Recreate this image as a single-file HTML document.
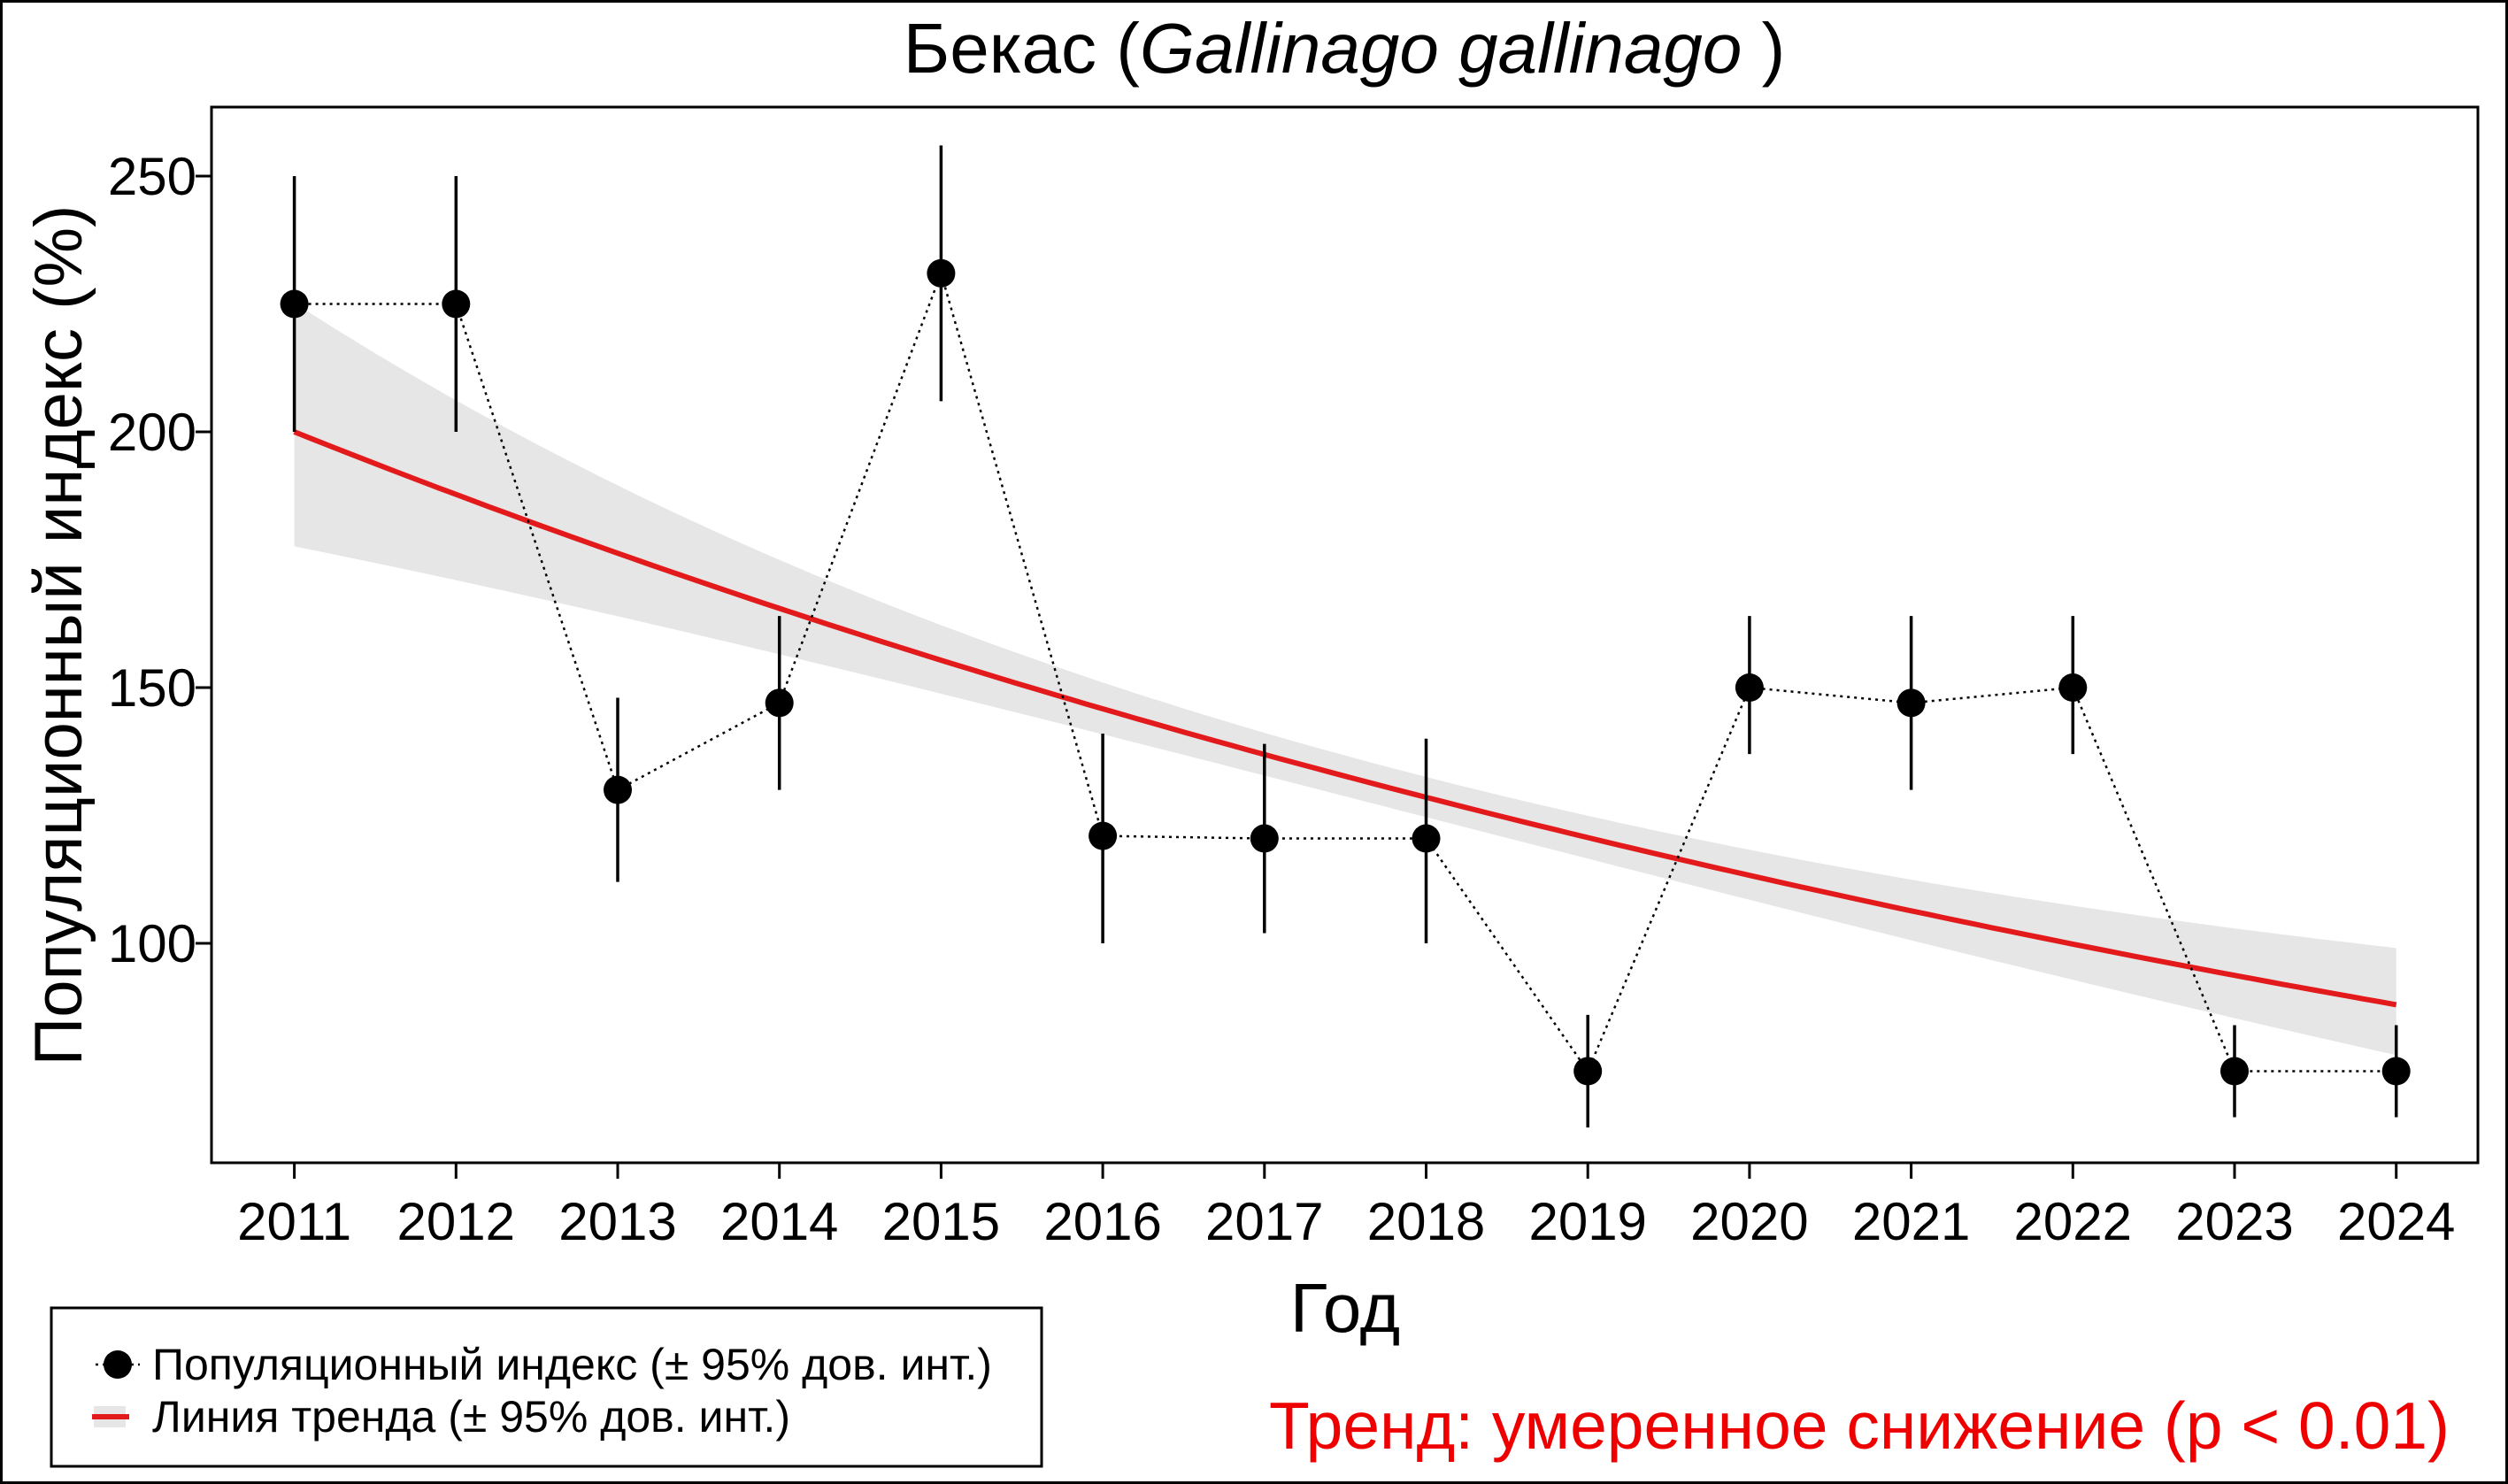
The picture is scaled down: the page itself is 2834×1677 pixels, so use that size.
<!DOCTYPE html>
<html><head><meta charset="utf-8">
<style>
html,body{margin:0;padding:0;background:#fff;}
svg{display:block;}
text{font-family:"Liberation Sans",Arial,sans-serif;}
</style></head>
<body>
<svg id="s" width="2834" height="1677" viewBox="0 0 2834 1677" xmlns="http://www.w3.org/2000/svg">
<rect x="1.5" y="1.5" width="2831" height="1674" fill="#fff" stroke="#000" stroke-width="3"/>
<g id="band"></g>
<g id="trend"></g>
<g id="data"></g>
<rect x="239" y="121" width="2561" height="1193" fill="none" stroke="#000" stroke-width="3"/>
<g id="axes" fill="#000"></g>
<text x="1519" y="82" font-size="80" text-anchor="middle">Бекас (<tspan font-style="italic">Gallinago gallinago</tspan> )</text>
<text x="1520" y="1505" font-size="78" text-anchor="middle">Год</text>
<text transform="translate(92,718) rotate(-90)" font-size="76" text-anchor="middle">Популяционный индекс (%)</text>
<rect x="58" y="1478" width="1119" height="179" fill="#fff" stroke="#000" stroke-width="3"/>
<line x1="108" y1="1542" x2="158" y2="1542" stroke="#000" stroke-width="2.5" stroke-dasharray="3,5"/>
<circle cx="133" cy="1542" r="16" fill="#000"/>
<text x="172" y="1559" font-size="50">Популяционный индекс (± 95% дов. инт.)</text>
<rect x="106" y="1589" width="36" height="24" fill="#e6e6e6"/>
<line x1="104" y1="1601" x2="146" y2="1601" stroke="#e31a1c" stroke-width="6"/>
<text x="172" y="1618" font-size="50">Линия тренда (± 95% дов. инт.)</text>
<text x="2768" y="1637" font-size="75" fill="#ee0000" text-anchor="end">Тренд: умеренное снижение (p &lt; 0.01)</text>
</svg>
<script>
var NS="http://www.w3.org/2000/svg";
function X(yr){return 332.6+(yr-2011)*182.7;}
function Y(v){return 1066-(v-100)*5.78;}
function el(p,t,a,txt){var e=document.createElementNS(NS,t);for(var k in a)e.setAttribute(k,a[k]);if(txt)e.textContent=txt;document.getElementById(p).appendChild(e);return e;}
var up=[],lo=[],tr=[];
for(var i=0;i<=130;i++){var t=i/10;var m=200*Math.pow(0.44,t/13);var w=0.03+0.0021*(t-6.5)*(t-6.5);
var x=X(2011+t);tr.push(x.toFixed(1)+","+Y(m).toFixed(1));up.push(x.toFixed(1)+","+Y(m*Math.exp(w)).toFixed(1));lo.push(x.toFixed(1)+","+Y(m*Math.exp(-w)).toFixed(1));}
el("band","polygon",{points:up.concat(lo.reverse()).join(" "),fill:"#e6e6e6"});
el("trend","polyline",{points:tr.join(" "),fill:"none",stroke:"#e31a1c","stroke-width":6});
var d=[[225,200,250],[225,200,250],[130,112,148],[147,130,164],[231,206,256],[121,100,141],[120.5,102,139],[120.5,100,140],[75,64,86],[150,137,164],[147,130,164],[150,137,164],[75,66,84],[75,66,84]];
var pts=d.map(function(r,i){return X(2011+i)+","+Y(r[0]);}).join(" ");
el("data","polyline",{points:pts,fill:"none",stroke:"#000","stroke-width":2.5,"stroke-dasharray":"3,5"});
d.forEach(function(r,i){var x=X(2011+i);el("data","line",{x1:x,x2:x,y1:Y(r[1]),y2:Y(r[2]),stroke:"#000","stroke-width":3.5});el("data","circle",{cx:x,cy:Y(r[0]),r:16,fill:"#000"});});
for(var i=0;i<14;i++){var x=X(2011+i);el("axes","line",{x1:x,x2:x,y1:1314,y2:1332,stroke:"#000","stroke-width":3});el("axes","text",{x:x,y:1401,"text-anchor":"middle","font-size":60},String(2011+i));}
[100,150,200,250].forEach(function(v){var y=Y(v);el("axes","line",{x1:221,x2:239,y1:y,y2:y,stroke:"#000","stroke-width":3});el("axes","text",{x:222,y:y+21,"text-anchor":"end","font-size":60},String(v));});
</script>
</body></html>
